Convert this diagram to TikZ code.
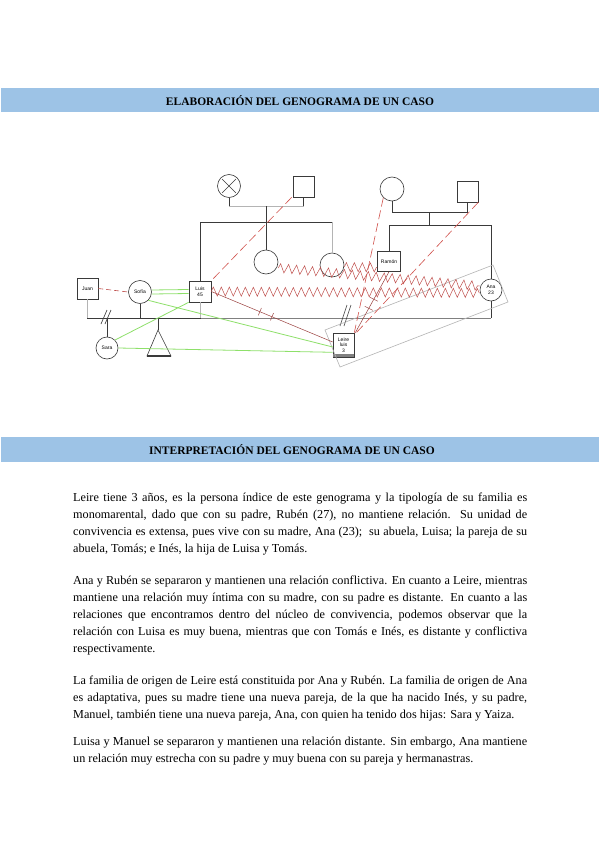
\documentclass[tikz,border=0pt]{standalone}
\usepackage{fontspec}
\setmainfont{Liberation Serif}
\newfontfamily\hand{Liberation Sans}
\usetikzlibrary{decorations.pathmorphing,calc}
\definecolor{hdr}{HTML}{9DC3E6}
\definecolor{rel}{HTML}{D0504A}
\definecolor{zzc}{HTML}{C0504D}
\definecolor{gd}{HTML}{8EE06A}
\definecolor{ln}{HTML}{3A3A3A}
\definecolor{lgray}{HTML}{B4B4B4}
\begin{document}
\begin{tikzpicture}[x=1pt,y=-1pt,
  person/.style={draw=ln, line width=0.6pt, inner sep=0pt, font=\hand\fontsize{5}{5.5}\selectfont, align=center},
  male/.style={person, rectangle, minimum width=21pt, minimum height=21pt},
  female/.style={person, circle, minimum size=23pt},
  kin/.style={draw=ln, line width=0.6pt},
  kinl/.style={draw=lgray, line width=0.6pt},
  hdrbar/.style={fill=hdr, draw=none},
  hdrtxt/.style={font=\bfseries\fontsize{11.5}{13}\selectfont, inner sep=0pt},
  jl/.style={anchor=base west, inner sep=0pt, font=\fontsize{12.2}{13}\selectfont},
  conflict/.style={draw=zzc, line width=0.5pt, decorate, decoration={zigzag, segment length=8pt, amplitude=4.5pt}},
  distant/.style={draw=rel, line width=0.6pt, dash pattern=on 9pt off 4pt},
  good/.style={draw=gd, line width=0.8pt},
  cutl/.style={draw=zzc!80!black, line width=0.5pt}
]
\useasboundingbox (0,0) rectangle (600,848);
\fill[white] (0,0) rectangle (600,848);

% headers
\fill[hdrbar] (1,88) rectangle (599,112);
\node[hdrtxt] (h1) at (300,100.5) {ELABORACIÓN DEL GENOGRAMA DE UN CASO};
\fill[hdrbar] (1,437) rectangle (599,462);
\node[hdrtxt] (h2) at (292,450) {INTERPRETACIÓN DEL GENOGRAMA DE UN CASO};

% ---------- genogram: persons ----------
\node[female] (xc) at (229,186) {};
\draw[ln, line width=0.6pt] ($(xc)+(-7,-7)$) -- ($(xc)+(7,7)$) ($(xc)+(-7,7)$) -- ($(xc)+(7,-7)$);
\node[male] (sqa) at (303.5,186.5) {};
\node[female, minimum size=24pt] (c1) at (266,262) {};
\node[female, minimum size=24pt] (c2) at (332,265) {};
\node[male, minimum width=22pt] (luis) at (200,291.5) {Luis\\45};
\node[male] (juan) at (87.5,288.5) {Juan};
\node[female] (sofia) at (140,292) {Sofía};
\node[female, minimum size=22pt] (sara) at (107,348) {Sara};
\node[male, minimum height=24pt] (leire) at (343.5,345) {Leire\\luis\\3};
\fill[gray] (leire.south west) rectangle ($(leire.south east)+(0,-3)$);
\node[female, minimum size=24pt] (gm) at (392,189) {};
\node[male] (gf) at (467.5,191.5) {};
\node[male, minimum width=23pt, minimum height=20pt] (ramon) at (389,261.5) {Ramón};
\node[female, minimum size=22pt] (ana) at (491,290) {Ana\\23};

% ---------- kinship lines ----------
\coordinate (m1) at (266,206);
\coordinate (s1) at (266,222);
\draw[kin] (xc.south) -- (xc.south |- m1);
\draw[kin] (sqa.south) -- (sqa.south |- m1);
\draw[kinl] (xc.south |- m1) -- (sqa.south |- m1);
\draw[kin] (m1) -- (s1);
\draw[kin] (luis.north |- s1) -- (c2.north |- s1);
\draw[kin] (luis.north |- s1) -- (luis.north);
\draw[kin] (s1) -- (c1.north);
\draw[kinl] (c2.north |- s1) -- (c2.north);

\coordinate (m2) at (429,212);
\coordinate (s2) at (429,225);
\draw[kin] (gm.south) -- (gm.south |- m2) -- (gf.south |- m2) -- (gf.south);
\draw[kin] (m2) -- (s2);
\draw[kin] (ramon.north |- s2) -- (ana.north |- s2);
\draw[kin] (ramon.north |- s2) -- (ramon.north);
\draw[kin] (ana.north |- s2) -- (ana.north);

\coordinate (b0) at (87,318);
\coordinate (b1) at (201,318);
\coordinate (b2) at (491,318);
\draw[kinl] (juan.south) -- (juan.south |- b0);
\draw[kin] (b0) -- (b1);
\draw[draw=gray, line width=1pt] (b1) -- (b2);
\draw[kinl] (luis.south) -- (luis.south |- b1);
\draw[kin] (sofia.south) -- (sofia.south |- b0);
\draw[kin] (ana.south) -- (b2);
\draw[kin] (sara.north |- b0) -- (sara.north);
\coordinate (tapex) at (158,330);
\draw[kin] (tapex |- b0) -- (tapex);
\draw[kin] (tapex) -- (147,356) -- (171,356) -- cycle;
\draw[ln, line width=1.2pt] (147,356) -- (171,356);
% divorce / separation marks
\draw[kin] (101,324) -- (107,310) (105,324) -- (111,310);
\draw[kin] (340,326) -- (347,305) (344,326) -- (351,305);

% household frame
\draw[lgray, line width=0.6pt] (325,330) -- (493,265) -- (508,302) -- (340,367) -- cycle;

% ---------- emotional relations ----------
\draw[distant, dash pattern=on 5pt off 3pt, draw=zzc] (juan.east) -- (sofia.west);
\draw[good] ($(sofia.east)+(0,-2)$) -- ($(luis.west)+(0,-2)$);
\draw[good] ($(sofia.east)+(0,2)$) -- ($(luis.west)+(0,2)$);
\draw[good] (sofia.south east) -- ($(leire.west)+(0,2)$);
\draw[good] (sara.east) -- ($(leire.south west)+(0,-5)$);
\draw[good] (sara.north east) -- (luis.south west);

\draw[distant] ($(sqa.south west)+(-1,0)$) -- (luis.north east);
\draw[distant] (gm.south west) -- (leire.north east);
\draw[distant] (gf.south east) -- ($(leire.north east)+(2,0)$);
\draw[cutl] (luis.east) -- ($(leire.west)+(0,-3)$)
  pic[pos=0.4,sloped]{code={\draw[cutl](0,-4)--(0,4);}}
  pic[pos=0.5,sloped]{code={\draw[cutl](0,-4)--(0,4);}};
\draw[cutl] (ramon.south) -- ($(leire.north east)+(1,0)$);
\path (ramon.south) -- ($(leire.north east)+(1,0)$)
  coordinate[pos=0.45] (k1) coordinate[pos=0.6] (k2);
\draw[cutl] ($(k1)+(-4,-2)$) -- ($(k1)+(4,2)$);
\draw[cutl] ($(k2)+(-4,-2)$) -- ($(k2)+(4,2)$);

\draw[conflict] (c1.east |- 0,268) -- ($(ana.west)+(0,-4)$);
\draw[conflict] (luis.east) -- ($(ana.west)+(0,3)$);
\draw[conflict] ($(c2.east)+(0,2)$) -- ($(ramon.west)+(0,6)$);

% ---------- body text ----------
\node[jl] (p1a) at (73,501) {\makebox[454pt][s]{Leire tiene 3 años, es la persona índice de este genograma y la tipología de su familia es}};
\node[jl] (p1b) at (73,518) {\makebox[454pt][s]{monomarental, dado que con su padre, Rubén (27), no mantiene relación. Su unidad de}};
\node[jl] (p1c) at (73,535) {\makebox[454pt][s]{convivencia es extensa, pues vive con su madre, Ana (23);\ \ su abuela, Luisa; la pareja de su}};
\node[jl] (p1d) at (73,552) {abuela, Tomás; e Inés, la hija de Luisa y Tomás.};

\node[jl] (p2a) at (73,584) {\makebox[454pt][s]{Ana y Rubén se separaron y mantienen una relación conflictiva. En cuanto a Leire, mientras}};
\node[jl] (p2b) at (73,601) {\makebox[454pt][s]{mantiene una relación muy íntima con su madre, con su padre es distante. En cuanto a las}};
\node[jl] (p2c) at (73,618) {\makebox[454pt][s]{relaciones que encontramos dentro del núcleo de convivencia, podemos observar que la}};
\node[jl] (p2d) at (73,635) {\makebox[454pt][s]{relación con Luisa es muy buena, mientras que con Tomás e Inés, es distante y conflictiva}};
\node[jl] (p2e) at (73,652) {respectivamente.};

\node[jl] (p3a) at (73,684) {\makebox[454pt][s]{La familia de origen de Leire está constituida por Ana y Rubén. La familia de origen de Ana}};
\node[jl] (p3b) at (73,701) {\makebox[454pt][s]{es adaptativa, pues su madre tiene una nueva pareja, de la que ha nacido Inés, y su padre,}};
\node[jl] (p3c) at (73,718) {Manuel, también tiene una nueva pareja, Ana, con quien ha tenido dos hijas: Sara y Yaiza.};

\node[jl] (p4a) at (73,745) {\makebox[454pt][s]{Luisa y Manuel se separaron y mantienen una relación distante. Sin embargo, Ana mantiene}};
\node[jl] (p4b) at (73,762) {un relación muy estrecha con su padre y muy buena con su pareja y hermanastras.};
\end{tikzpicture}
\end{document}
